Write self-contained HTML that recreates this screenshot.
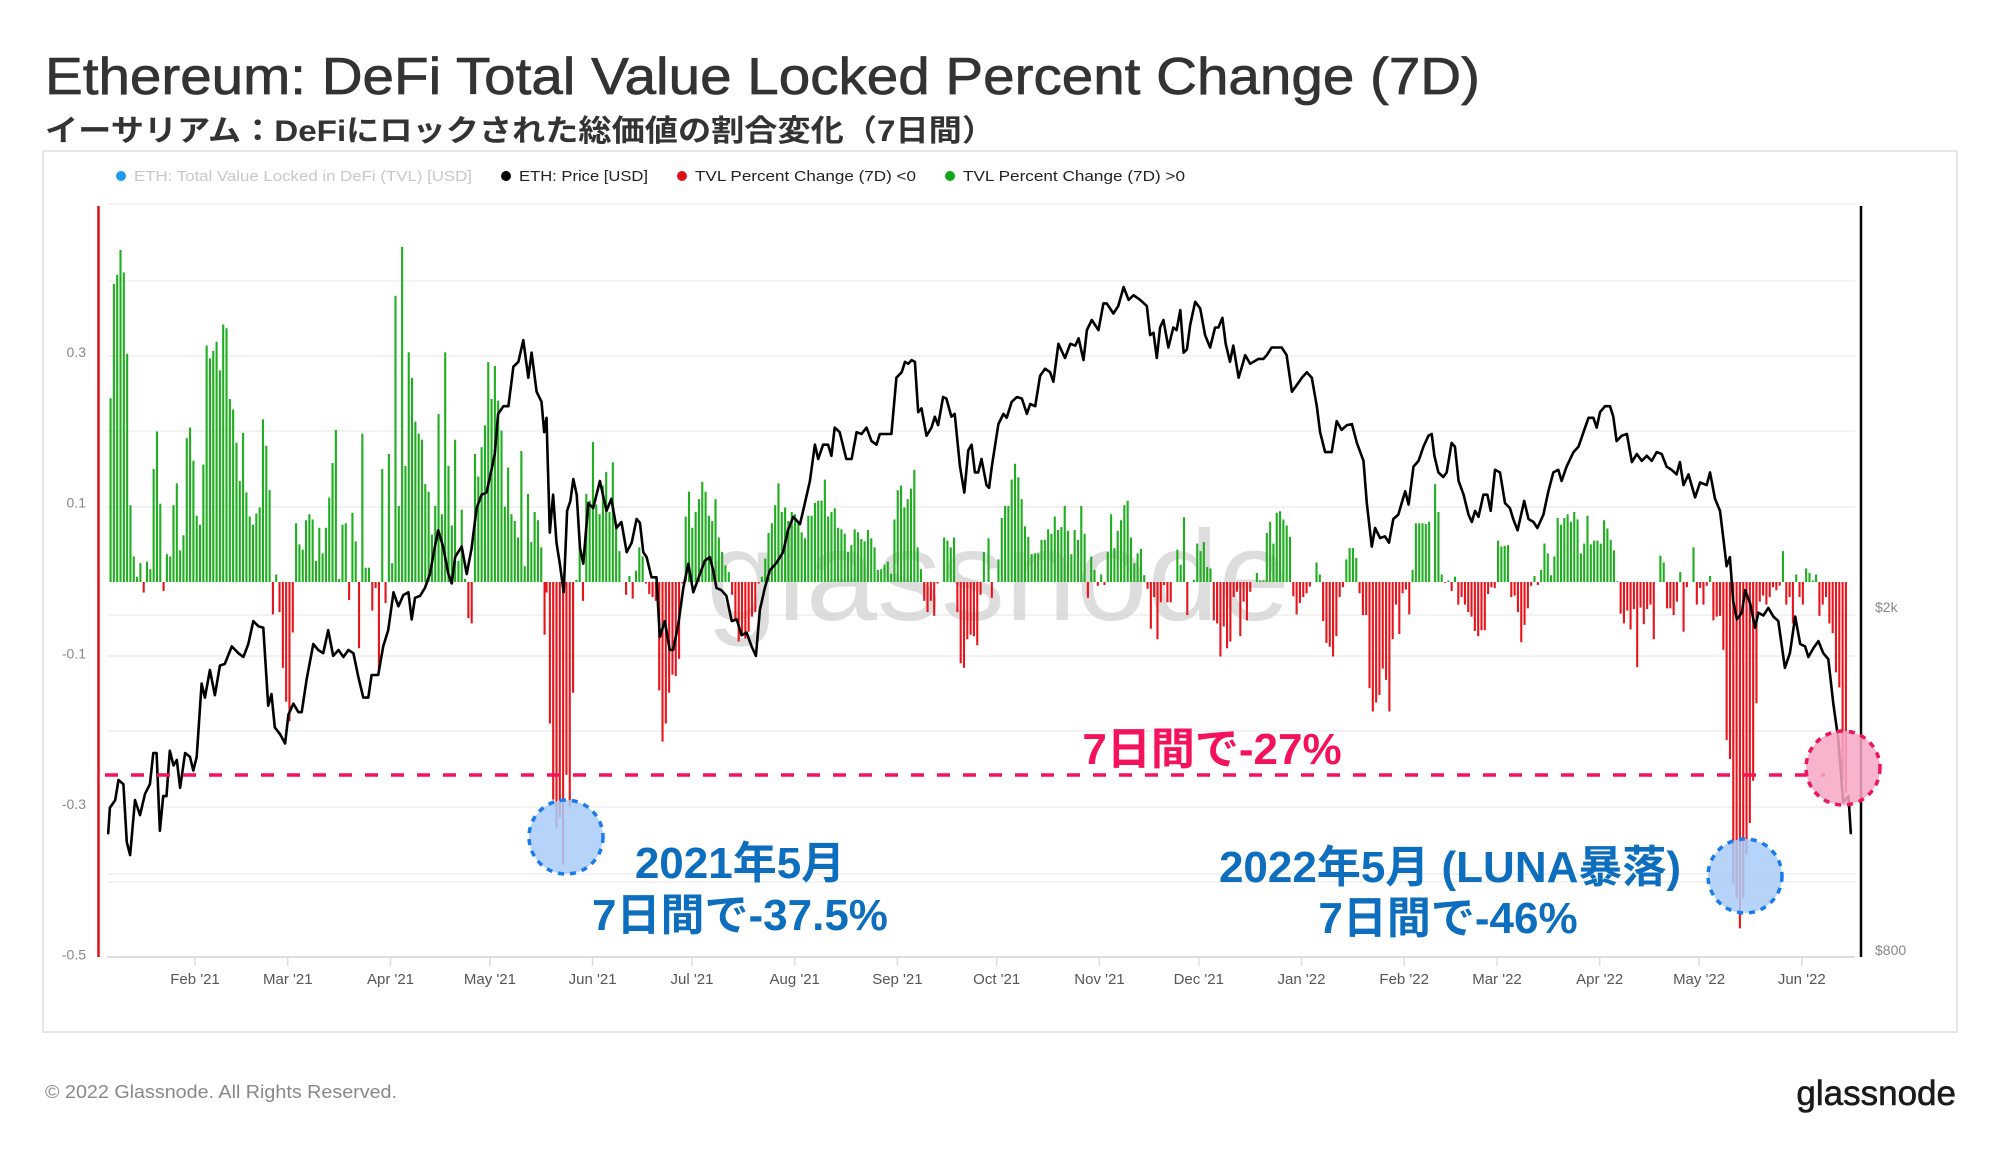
<!DOCTYPE html>
<html><head><meta charset="utf-8">
<style>
html,body{margin:0;padding:0;background:#fff;}
body{width:2000px;height:1150px;overflow:hidden;font-family:"Liberation Sans","Noto Sans CJK JP",sans-serif;}
svg text{font-family:"Liberation Sans","Noto Sans CJK JP",sans-serif;}
</style></head>
<body>
<svg id="chart" width="2000" height="1150" xmlns="http://www.w3.org/2000/svg">
  <text x="45" y="94" font-size="52" fill="#333" stroke="#333" stroke-width="0.7" textLength="1435" lengthAdjust="spacingAndGlyphs">Ethereum: DeFi Total Value Locked Percent Change (7D)</text>
  <text x="45" y="141" font-size="30" font-weight="bold" fill="#333" textLength="950" lengthAdjust="spacingAndGlyphs">イーサリアム：DeFiにロックされた総価値の割合変化（7日間）</text>
  <rect x="43" y="151" width="1914" height="881" fill="none" stroke="#e6e6e6" stroke-width="2"/>
  <g font-size="15">
    <g><circle cx="121" cy="176" r="5" fill="#1e9bf0"/><text x="134" y="181" fill="#c8c8c8" textLength="338" lengthAdjust="spacingAndGlyphs">ETH: Total Value Locked in DeFi (TVL) [USD]</text></g>
    <g><circle cx="506" cy="176" r="5" fill="#000"/><text x="519" y="181" fill="#222" textLength="129" lengthAdjust="spacingAndGlyphs">ETH: Price [USD]</text></g>
    <g><circle cx="682" cy="176" r="5" fill="#e0101a"/><text x="695" y="181" fill="#222" textLength="221" lengthAdjust="spacingAndGlyphs">TVL Percent Change (7D) &lt;0</text></g>
    <g><circle cx="950" cy="176" r="5" fill="#16a516"/><text x="963" y="181" fill="#222" textLength="222" lengthAdjust="spacingAndGlyphs">TVL Percent Change (7D) &gt;0</text></g>
  </g>
  <g id="grid"></g>
  <text x="998" y="620" font-size="128" text-anchor="middle" fill="#d4d4d4" fill-opacity="0.8">glassnode</text>
  <g id="bars"></g>
  <g id="price"></g>
  <g id="axes"></g>
  <g>
    <line x1="105" y1="775" x2="1825" y2="775" stroke="#f5125c" stroke-width="3.5" stroke-dasharray="13,13"/>
    <text x="1212" y="764" font-size="44" font-weight="bold" text-anchor="middle" fill="#f5125c">7日間で-27%</text>
    <ellipse cx="566" cy="837" rx="37" ry="37" fill="#a9cdf8" fill-opacity="0.85" stroke="#1a7bef" stroke-width="3.5" stroke-dasharray="6,6"/>
    <ellipse cx="1745" cy="876" rx="37" ry="37" fill="#a9cdf8" fill-opacity="0.85" stroke="#1a7bef" stroke-width="3.5" stroke-dasharray="6,6"/>
    <ellipse cx="1843" cy="768" rx="37" ry="37" fill="#f7a7c4" fill-opacity="0.85" stroke="#f0145a" stroke-width="3.5" stroke-dasharray="6,6"/>
    <text x="740" y="878" font-size="44" font-weight="bold" text-anchor="middle" fill="#0d6ebe">2021年5月</text>
    <text x="740" y="930" font-size="44" font-weight="bold" text-anchor="middle" fill="#0d6ebe">7日間で-37.5%</text>
    <text x="1450" y="882" font-size="44" font-weight="bold" text-anchor="middle" fill="#0d6ebe">2022年5月 (LUNA暴落)</text>
    <text x="1448" y="933" font-size="44" font-weight="bold" text-anchor="middle" fill="#0d6ebe">7日間で-46%</text>
  </g>
  <text x="45" y="1098" font-size="18" fill="#888" textLength="352" lengthAdjust="spacingAndGlyphs">© 2022 Glassnode. All Rights Reserved.</text>
  <text x="1956" y="1105" font-size="35" text-anchor="end" fill="#1a1a1a" stroke="#1a1a1a" stroke-width="0.6">glassnode</text>
</svg>
<script>
// ---- data (day index: 0 = 1 Jan 2021) ----
const barsAStart = 5.5;
const barsA = [0.244,0.396,0.408,0.441,0.411,0.303,0.102,0.034,0.007,0.025,-0.014,0.027,0.017,0.150,0.200,0.104,-0.012,0.037,0.034,0.102,0.131,0.042,0.062,0.191,0.205,0.161,0.088,0.076,0.156,0.314,0.297,0.307,0.319,0.281,0.342,0.337,0.243,0.229,0.185,0.134,0.198,0.119,0.087,0.076,0.091,0.099,0.216,0.181,0.122,-0.043,0.010,-0.040,-0.114,-0.159,-0.185,-0.067,0.078,0.050,0.043,0.082,0.090,0.083,0.028,0.072,0.038,0.072,0.112,0.158,0.202,0.004,0.076,0.078,-0.024,0.092,0.054,-0.088,0.197,0.019,0.019,-0.038,-0.008,-0.120,0.150,-0.028,0.170,0.025,0.380,0.101,0.445,0.154,0.305,0.271,0.213,0.197,0.189,0.130,0.120,0.063,0.101,0.223,0.090,0.305,0.154,0.075,0.189,0.028,0.096,0.004,-0.048,-0.055,0.170,0.140,0.179,0.208,0.292,0.243,0.287,0.241,0.201,0.100,0.152,0.090,0.081,0.059,0.174,0.021,0.117,0.053,0.093,0.082,0.046,-0.070];
const barsBStart = 137.1;
const barsB = [-0.014,-0.188,-0.289,-0.327,-0.313,-0.375,-0.256,-0.298,-0.147,0.003,0.049,-0.025,0.117,0.108,0.186,0.103,0.090,0.128,0.146,0.093,0.159,0.078,0.041,0,-0.017,0.008,-0.022,0.015,0.046,0.034,-0.002,-0.016,-0.020,-0.025,-0.144,-0.212,-0.188,-0.147,-0.123,-0.125,-0.102,-0.002,0.087,0.120,0.072,0.093,0.110,0.133,0.120,0.088,0.081,0.110,0.059,0.040,0.022,0.013,-0.017,-0.052,-0.079,-0.070,-0.075,-0.066,-0.046,-0.040,-0.002,0.007,0.031,0.065,0.078,0.102,0.131,0.093,0.099,0.081,0.093,0.090,0.078,0.066,0.058,0.088,0.088,0.105,0.108,0.108,0.136,0.087,0.093,0.098,0.072,0.070,0.064,0.040,0.049,0.070,0.066,0.057,0.054,0.069,0.058,0.046,0.016,0.017,0.023,0.027,0.011,0.083,0.122,0.128,0.099,0.110,0.124,0.149,0.046,0.017,-0.025,-0.040,-0.025,-0.045,-0.002,0.000,0.059,0.055,0.046,0.059,-0.040,-0.108,-0.114,-0.076,-0.070,-0.072,-0.084,-0.017,0.040];
const barsCStart = 270.5;
const barsC = [0.058,-0.021,0,0.030,0.085,0.101,0.101,0.136,0.157,0.139,0.110,0.074,0.060,0.037,0.038,0.038,0.056,0.056,0.070,0.064,0.087,0.069,0.073,0.101,0.068,0.037,0.069,0.056,0.101,0.064,-0.021,0.034,0.016,-0.005,0.010,-0.004,0.040,0.090,0.045,0.068,0.082,0.102,0.108,0.059,0.025,0.038,0.044,0.009,-0.009,-0.062,-0.020,-0.076,-0.027,-0.004,-0.027,-0.027,0,0.043,0.023,0.086,-0.044,0,0.003,0.051,0.041,0.053,0.020,0.018,-0.051,-0.055,-0.099,-0.059,-0.088,-0.079,-0.020,-0.013,-0.072,-0.026,-0.051,-0.013,0,0.012,0.002,0.002,0.065,0.080,0.051,0.092,0.094,0.083,0.075,0.060,-0.019,-0.043,-0.028,-0.020,-0.015,-0.006,0,0.026,0.010,-0.052,-0.081,-0.086,-0.099,-0.072,-0.020,-0.007,0.030,0.045,0.045,0.032,-0.015,-0.044,-0.044,-0.141,-0.172,-0.160,-0.150,-0.115,-0.130,-0.172,-0.076,-0.030,-0.069,-0.015,-0.010,-0.043,0.016,0.078,0.078,0.078,0.077,0.080];
const barsDStart = 405.3;
const barsD = [0.130,0.093,0.010,-0.001,0.002,-0.012,0.007,-0.030,-0.020,-0.030,-0.040,-0.046,-0.065,-0.072,-0.064,-0.064,-0.016,-0.007,-0.008,0.055,0.047,0.048,0.049,-0.020,-0.018,-0.040,-0.080,-0.057,-0.035,-0.005,0.008,-0.004,0.016,0.051,0.038,0.009,0.034,0.085,0.076,0.085,0.090,0.080,0.093,0.083,0.038,0.051,0.088,0.050,0.055,0.055,0.051,0.082,0.071,0.056,0.042,0.001,-0.042,-0.055,-0.038,-0.063,-0.036,-0.113,-0.034,-0.056,-0.036,-0.030,-0.076,0,0.035,0.026,-0.035,-0.035,-0.044,-0.026,0.013,-0.066,-0.007,0,0.046,-0.030,-0.008,-0.030,-0.005,0.008,-0.051,-0.046,-0.045,-0.090,-0.210,-0.235,-0.400,-0.420,-0.460,-0.420,-0.362,-0.320,-0.264,-0.161,-0.026,-0.018,-0.030,-0.020,-0.007,-0.011,-0.005,0.041,-0.030,-0.020,-0.055,0.010,-0.020,-0.030,0.018,0.012,0.002,0.010,-0.045,-0.030,-0.020,-0.055,-0.068,-0.120,-0.140,-0.262,-0.280];

const priceDays = [4.8,5.3,6.9,7.9,9.4,10.4,11.4,12.9,14.4,15.9,17.4,18.4,19.4,20.4,21.4,22.4,23.4,24.5,25.5,26.5,28.0,29.5,30.5,31.5,33.0,34.0,35.5,37.0,38.5,40.0,42.1,44.1,45.6,47.1,48.6,50.1,51.6,53.1,54.1,55.1,56.7,58.2,59.2,60.7,62.2,63.2,64.7,66.7,68.2,69.7,71.2,72.7,74.3,75.8,77.3,78.8,80.3,81.8,83.3,84.3,86.3,87.8,89.3,90.9,92.4,93.9,95.4,96.4,97.4,98.9,100.4,101.9,103.4,104.4,105.9,107.5,108.5,109.5,111.5,113.0,114.5,116.0,117.5,119.0,120.5,121.5,122.5,124.1,125.6,127.1,128.6,130.1,131.6,132.6,134.1,135.6,136.4,
137.1,138.1,139.1,140.1,141.1,142.3,143.3,144.3,145.2,146.2,147.2,148.2,149.7,151.2,153.2,155.2,156.7,158.2,159.7,161.3,162.8,164.3,165.3,166.3,167.3,168.8,170.3,171.3,172.8,174.3,175.3,176.9,178.4,179.9,181.4,183.4,184.9,186.4,187.4,188.4,189.9,191.4,193.0,194.5,196.0,197.5,199.0,200.3,201.5,203.0,204.5,206.5,208.5,210.0,211.6,213.6,215.1,216.6,218.1,219.1,220.6,222.1,223.1,224.1,225.6,227.6,229.2,230.7,232.2,233.7,235.2,236.7,237.7,239.7,241.2,242.7,244.3,245.3,246.3,247.3,248.3,249.3,250.3,251.8,253.3,254.3,255.3,256.8,257.8,259.3,260.3,261.9,263.2,264.4,265.4,266.4,267.4,268.4,269.9,270.7,
271.5,273.5,275.0,276.0,277.5,279.1,280.6,282.1,283.1,284.6,286.1,287.6,289.1,290.1,291.6,293.6,295.2,296.7,297.7,299.2,300.2,301.7,303.7,305.2,306.2,308.2,309.7,311.3,312.8,314.3,316.3,318.3,319.3,320.3,321.3,322.3,323.3,324.8,326.3,327.3,328.4,329.4,330.4,331.4,332.9,334.4,335.9,337.4,338.9,339.9,341.1,342.1,343.4,344.4,346.0,347.0,348.0,349.5,350.5,352.0,353.5,354.5,356.0,357.5,359.0,360.5,362.1,363.6,365.1,366.6,368.1,369.6,370.6,372.1,374.1,375.6,377.1,378.7,380.2,381.7,383.7,384.7,386.2,387.2,388.7,390.2,391.4,392.7,394.2,396.3,397.3,398.8,400.3,401.8,403.3,404.3,405.1,
406.3,407.8,408.8,410.3,411.3,412.4,413.9,415.4,416.4,417.4,418.4,419.9,421.1,422.1,423.4,424.9,426.4,427.9,428.9,430.2,432.2,433.5,435.0,436.2,438.0,439.5,441.0,442.5,443.5,445.0,447.1,448.6,450.1,451.6,453.1,454.1,455.1,456.6,458.1,459.1,460.1,461.6,463.2,464.7,466.2,467.7,469.2,470.7,472.2,473.7,475.2,476.7,478.2,479.2,480.3,481.8,483.8,485.3,487.3,488.3,489.8,491.3,492.3,493.3,494.3,495.3,496.4,497.9,498.9,500.4,501.9,502.9,504.4,505.9,507.4,508.9,510.9,512.4,514.0,515.5,517.0,518.0,519.5,521.0,522.5,524.0,525.5,527.0,528.5,530.1,530.8];
const priceValues = [1093,1170,1194,1260,1246,1067,1031,1194,1147,1214,1246,1354,1354,1100,1207,1207,1362,1310,1329,1234,1354,1340,1292,1340,1630,1570,1690,1580,1710,1718,1800,1768,1750,1812,1926,1900,1892,1536,1585,1450,1424,1389,1500,1545,1510,1510,1650,1812,1783,1768,1880,1755,1783,1750,1783,1768,1660,1570,1570,1668,1668,1800,1880,2080,2004,2065,2080,1935,2050,2060,2104,2184,2350,2455,2350,2184,2130,2285,2350,2184,2340,2605,2700,2715,2885,3010,3350,3420,3420,3800,3850,4080,3690,3945,3555,3460,3190,
3315,2440,2700,2375,2245,2080,2585,2655,2815,2700,2340,2245,2640,2605,2800,2585,2670,2470,2510,2315,2375,2530,2505,2315,2285,2165,2165,1846,1926,1783,1783,1912,2104,2245,2080,2184,2263,2285,2205,2104,2092,2060,1926,1935,1855,1868,1800,1755,1985,2104,2205,2250,2315,2455,2545,2495,2640,2800,3085,2970,3085,3085,2995,3230,3190,2970,2970,3190,3175,3230,3115,3085,3175,3175,3175,3690,3745,3850,3830,3868,3850,3365,3400,3160,3230,3325,3250,3505,3490,3325,3350,2910,2715,3040,3085,2865,2865,2970,2770,2750,
2910,3260,3350,3315,3460,3505,3490,3350,3440,3420,3710,3780,3745,3650,4040,3890,4040,4020,4100,3868,4190,4305,4190,4500,4500,4380,4470,4700,4542,4600,4542,4470,4135,4160,3890,4220,4305,4000,4220,4190,4420,3945,3980,4250,4520,4440,4135,4000,4220,4220,4330,4040,3850,4020,3690,3800,3920,3830,3850,3880,3880,3920,4000,4000,4000,3920,3555,3620,3690,3745,3690,3420,3190,3025,3025,3285,3210,3250,3260,3100,2955,2640,2350,2470,2405,2415,2375,2530,2560,2725,2630,2910,2955,3070,3160,3175,2995,
2865,2830,2865,3100,3070,2800,2700,2560,2510,2585,2545,2700,2700,2585,2885,2865,2640,2605,2530,2455,2655,2530,2510,2470,2560,2725,2865,2885,2800,2910,3025,3070,3190,3315,3315,3230,3365,3420,3420,3325,3115,3160,3175,2945,3010,2955,2995,2955,3025,3010,2910,2885,2850,2945,2770,2850,2680,2790,2770,2865,2670,2585,2405,2230,2285,2030,1935,1970,2092,2020,1892,1970,1955,1995,1950,1926,1700,1768,1950,1812,1800,1750,1792,1826,1768,1740,1545,1405,1188,1207,1093];

const leftTicks = [0.3, 0.1, -0.1, -0.3, -0.5];
const leftTickLabels = ["0.3", "0.1", "-0.1", "-0.3", "-0.5"];
const priceTicks = [2000, 800];
const priceTickLabels = ["$2k", "$800"];
const monthDays = [31, 59, 90, 120, 151, 181, 212, 243, 273, 304, 334, 365, 396, 424, 455, 485, 516];
const monthLabels = ["Feb '21","Mar '21","Apr '21","May '21","Jun '21","Jul '21","Aug '21","Sep '21","Oct '21","Nov '21","Dec '21","Jan '22","Feb '22","Mar '22","Apr '22","May '22","Jun '22"];

// ---- scales ----
function xDay(d){ return 92.3 + 3.313 * d; }
function yVal(v){ return 582 - 753 * v; }
function yPrice(p){ return 607 - 862 * Math.log10(p / 2000); }

const NS = "http://www.w3.org/2000/svg";
function mk(tag, attrs, parent){ const e = document.createElementNS(NS, tag); for (const k in attrs) e.setAttribute(k, attrs[k]); parent.appendChild(e); return e; }

// gridlines
const grid = document.getElementById('grid');
const gridYs = [204, 281, 356, 431, 507, 615, 656, 731, 807, 874, 882];
gridYs.forEach(function(gy){
  const l = mk('line', {x1:107, x2:1855, y1:gy, y2:gy, stroke:'#eeeeee', 'stroke-width':1.6}, grid);
  
  
});

// bars
const barsG = document.getElementById('bars');
function drawBars(start, vals){
  vals.forEach(function(v, i){
    if (v === 0) return;
    const x = xDay(start + i);
    const y0 = yVal(0), y1 = yVal(v);
    const r = mk('rect', {x:(x - 1).toFixed(2), y:Math.min(y0, y1).toFixed(2), width:2.1, height:Math.max(0.8, Math.abs(y1 - y0)).toFixed(2), fill: v < 0 ? '#e8141c' : '#1fae1f'}, barsG);
    
    
  });
}
drawBars(barsAStart, barsA);
drawBars(barsBStart, barsB);
drawBars(barsCStart, barsC);
drawBars(barsDStart, barsD);

// price line
const priceG = document.getElementById('price');
let d = '';
priceDays.forEach(function(day, i){
  d += (i ? 'L' : 'M') + xDay(day).toFixed(1) + ',' + yPrice(priceValues[i]).toFixed(1);
});
const pl = mk('path', {d:d, fill:'none', stroke:'#000', 'stroke-width':2.6, 'stroke-linejoin':'round', 'stroke-linecap':'round'}, priceG);



// axes
const axes = document.getElementById('axes');
const la = mk('line', {x1:98.5, x2:98.5, y1:206, y2:957, stroke:'#e0101a', 'stroke-width':2.5}, axes);


const ra = mk('line', {x1:1861, x2:1861, y1:206, y2:957, stroke:'#000', 'stroke-width':2.5}, axes);


const ba = mk('line', {x1:107, x2:1855, y1:957, y2:957, stroke:'#dddddd', 'stroke-width':2}, axes);



leftTicks.forEach(function(v, i){
  const t = mk('text', {x:86, y:(yVal(v) + 1).toFixed(1), 'font-size':14, fill:'#888', 'text-anchor':'end'}, axes);
  t.textContent = leftTickLabels[i];
  
  
});
priceTicks.forEach(function(p, i){
  const t = mk('text', {x:1875, y:(yPrice(p) + 5).toFixed(1), 'font-size':14, fill:'#888'}, axes);
  t.textContent = priceTickLabels[i];
  
  
});
monthDays.forEach(function(md, i){
  const x = xDay(md);
  const tk = mk('line', {x1:x, x2:x, y1:957, y2:966, stroke:'#dddddd', 'stroke-width':1.5}, axes);
  
  
  const t = mk('text', {x:x.toFixed(1), y:984, 'font-size':15, fill:'#555', 'text-anchor':'middle'}, axes);
  t.textContent = monthLabels[i];
  
  
});
</script>
</body></html>
